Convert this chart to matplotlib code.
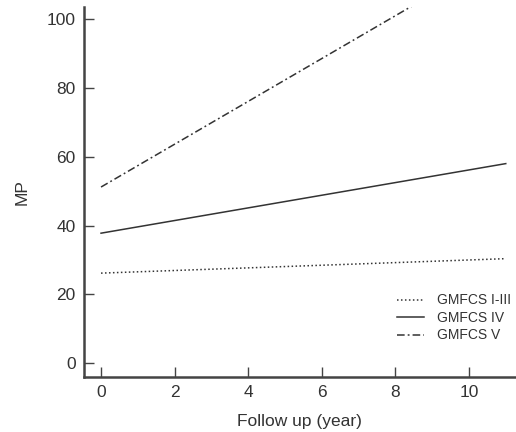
import matplotlib
matplotlib.use("Agg")
import matplotlib.pyplot as plt

# follow-up years (fitted straight lines, read at start and end)
years = [0, 11]
mp_gmfcs_1_3 = [26.2, 30.4]
mp_gmfcs_4 = [37.8, 58.0]
mp_gmfcs_5 = [51.2, 119.6]

x_ticks = [0, 2, 4, 6, 8, 10]
y_ticks = [0, 20, 40, 60, 80, 100]

plt.rcParams['font.family'] = ['Liberation Sans', 'DejaVu Sans']
txt = '#333333'
axcol = '#444444'

fig = plt.figure(figsize=(5.16, 4.32), dpi=100)
ax = fig.add_axes([0.163, 0.127, 0.835, 0.857])

ax.plot(years, mp_gmfcs_1_3, color='#333333', lw=1.1, linestyle=(0, (1, 1.6)), label='GMFCS I-III')
ax.plot(years, mp_gmfcs_4, color='#333333', lw=1.1, linestyle='-', label='GMFCS IV')
ax.plot(years, mp_gmfcs_5, color='#333333', lw=1.1, linestyle=(0, (5, 2, 1.2, 2)), label='GMFCS V')

ax.set_xlim(-0.46, 11.25)
ax.set_ylim(-4, 103.5)
ax.set_xticks(x_ticks)
ax.set_yticks(y_ticks)

for s in ['top', 'right']:
    ax.spines[s].set_visible(False)
for s in ['left', 'bottom']:
    ax.spines[s].set_color(axcol)
    ax.spines[s].set_linewidth(1.8)
ax.tick_params(direction='in', length=7, width=1, color=axcol,
               labelsize=12.5, labelcolor=txt, pad=6)

ax.set_xlabel("Follow up (year)", fontsize=12.5, color=txt, labelpad=10)
ax.set_ylabel("MP", fontsize=12.5, color=txt, labelpad=12)

leg = ax.legend(loc='lower right', bbox_to_anchor=(1.02, 0.06), frameon=False,
                fontsize=10, handlelength=2.0, handletextpad=0.9, labelspacing=0.25)
for t in leg.get_texts():
    t.set_color(txt)

plt.savefig("out.png", dpi=100)
